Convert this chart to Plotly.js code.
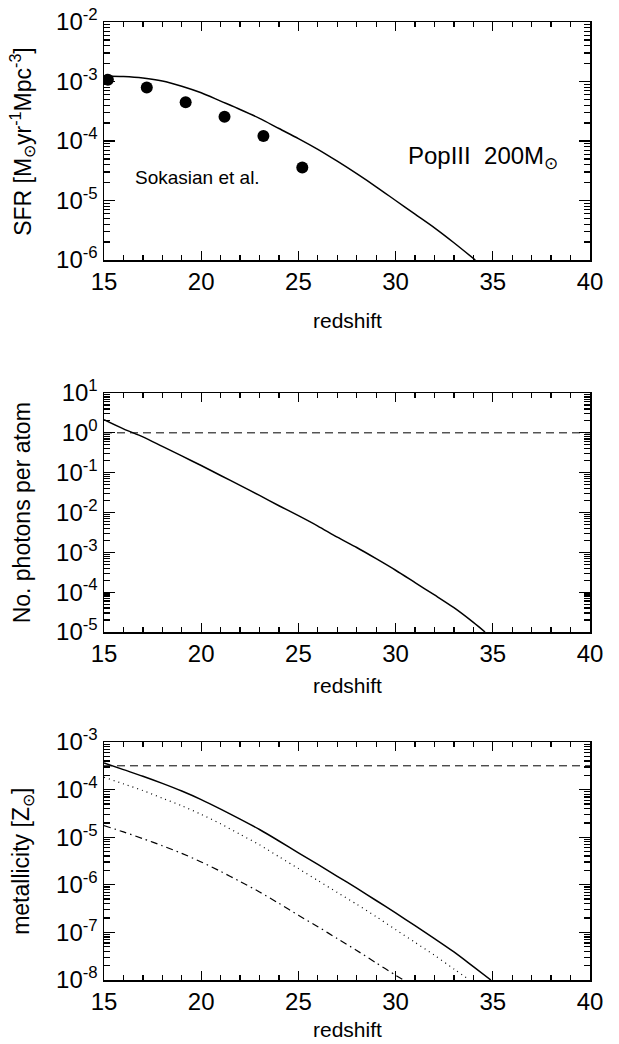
<!DOCTYPE html>
<html>
<head>
<meta charset="utf-8">
<script src="https://cdn.plot.ly/plotly-3.0.1.min.js"></script>
<style>
html,body{margin:0;padding:0;background:#fff;}
#wrap{position:relative;width:619px;height:1044px;}
.panel{position:absolute;left:0;width:619px;height:348px;}
#p1{top:0;} #p2{top:348px;} #p3{top:696px;}
</style>
</head>
<body>
<div id="wrap"><div id="p1" class="panel"></div><div id="p2" class="panel"></div><div id="p3" class="panel"></div></div>
<script>
// ---- Panel 1: star formation rate ----
const sfrZ = [15,16,17,18,19,20,21,22,23,24,25,26,27,28,29,30,31,32,33,34.1];
const sfrModel = [1.242e-3,1.216e-3,1.148e-3,1.023e-3,8.32e-4,6.46e-4,4.68e-4,3.39e-4,2.40e-4,1.62e-4,
                  1.10e-4,7.24e-5,4.57e-5,2.82e-5,1.70e-5,1.00e-5,5.89e-6,3.47e-6,1.95e-6,1.0e-6];
const sokZ = [15.2,17.2,19.2,21.2,23.2,25.2];
const sokSFR = [1.07e-3,7.9e-4,4.47e-4,2.55e-4,1.21e-4,3.6e-5];

// ---- Panel 2: photons per atom ----
const phZ = [15,16,17,18,19,20,21,22,23,24,25,26,27,28,29,30,31,32,33,34,34.6];
const phVal = [2.14,1.259,0.794,0.457,0.263,0.151,0.0851,0.0479,0.0269,0.0148,8.32e-3,4.57e-3,2.40e-3,
               1.32e-3,6.92e-4,3.55e-4,1.74e-4,8.51e-5,4.07e-5,1.74e-5,1.0e-5];
const phRefZ = [15,40];
const phRefVal = [1,1];

// ---- Panel 3: metallicity ----
const metZ = [15,16,17,18,19,20,21,22,23,24,25,26,27,28,29,30,31,32,33,34,34.9];
const metSolid = [3.63e-4,2.63e-4,1.91e-4,1.35e-4,9.33e-5,6.17e-5,3.89e-5,2.40e-5,1.45e-5,8.32e-6,4.68e-6,
                  2.69e-6,1.51e-6,8.51e-7,4.68e-7,2.57e-7,1.38e-7,7.41e-8,3.89e-8,1.91e-8,1.0e-8];
const metDotZ = [15,16,17,18,19,20,21,22,23,24,25,26,27,28,29,30,31,32,33,33.8];
const metDot = [1.82e-4,1.32e-4,9.55e-5,6.61e-5,4.57e-5,3.02e-5,1.91e-5,1.148e-5,6.92e-6,3.89e-6,2.19e-6,
                1.23e-6,6.92e-7,3.89e-7,2.14e-7,1.148e-7,6.17e-8,3.31e-8,1.70e-8,1.0e-8];
const metDDZ = [15,16,17,18,19,20,21,22,23,24,25,26,27,28,29,30,30.4];
const metDD = [1.76e-5,1.29e-5,9.33e-6,6.61e-6,4.57e-6,3.02e-6,1.91e-6,1.175e-6,7.08e-7,4.07e-7,2.29e-7,
               1.32e-7,7.41e-8,4.17e-8,2.29e-8,1.26e-8,1.0e-8];
const zcritZ = [15,40];
const zcritVal = [3.16e-4,3.16e-4];

// ---- Tick labels ----
const xTicks = [15,20,25,30,35,40];
const y1Ticks = [1e-6,1e-5,1e-4,1e-3,1e-2];
const y1Text = ['10<sup>-6</sup>','10<sup>-5</sup>','10<sup>-4</sup>','10<sup>-3</sup>','10<sup>-2</sup>'];
const y2Ticks = [1e-5,1e-4,1e-3,1e-2,1e-1,1,10];
const y2Text = ['10<sup>-5</sup>','10<sup>-4</sup>','10<sup>-3</sup>','10<sup>-2</sup>','10<sup>-1</sup>','10<sup>0</sup>','10<sup>1</sup>'];
const y3Ticks = [1e-8,1e-7,1e-6,1e-5,1e-4,1e-3];
const y3Text = ['10<sup>-8</sup>','10<sup>-7</sup>','10<sup>-6</sup>','10<sup>-5</sup>','10<sup>-4</sup>','10<sup>-3</sup>'];

const FONT = 'Liberation Sans, Arial, Helvetica, sans-serif';
const solid = {color:'#000', width:1.5, shape:'spline', smoothing:0.8};
const dashed = {color:'#000', width:1, dash:'8px,5px'};

function xax(){
  return {
    range:[15,40], tickmode:'array', tickvals:xTicks, ticks:'inside', ticklen:9, tickwidth:1.3, tickcolor:'#000',
    showline:true, linecolor:'#000', linewidth:1.5, mirror:'allticks', showgrid:false, zeroline:false,
    minor:{dtick:1, ticks:'inside', ticklen:5, tickwidth:1.3, tickcolor:'#000', showgrid:false},
    tickfont:{family:FONT, size:24, color:'#000'}
  };
}
function yax(rng, tv, tt){
  return {
    type:'log', range:rng, tickmode:'array', tickvals:tv, ticktext:tt,
    ticks:'inside', ticklen:11, tickwidth:1.3, tickcolor:'#000',
    showline:true, linecolor:'#000', linewidth:1.5, mirror:'allticks', showgrid:false, zeroline:false,
    minor:{dtick:'D1', ticks:'inside', ticklen:6, tickwidth:1.3, tickcolor:'#000', showgrid:false},
    tickfont:{family:FONT, size:24, color:'#000'}
  };
}
function titles(xTitleY, yTitle){
  return [
    {xref:'paper', yref:'paper', x:0.5, y:xTitleY, xanchor:'center', yanchor:'middle', showarrow:false,
     text:'redshift', font:{family:FONT, size:21, color:'#000'}},
    {xref:'paper', yref:'paper', x:-0.169, y:0.5, xanchor:'center', yanchor:'middle', showarrow:false,
     textangle:-90, text:yTitle, font:{family:FONT, size:23, color:'#000'}}
  ];
}
function base(margin, yaxis, annotations){
  return {
    width:619, height:348, showlegend:false, paper_bgcolor:'#fff', plot_bgcolor:'#fff',
    margin:margin, xaxis:xax(), yaxis:yaxis, annotations:annotations
  };
}
const cfg = {staticPlot:true, displayModeBar:false};

Plotly.newPlot('p1', [
  {x:sfrZ, y:sfrModel, mode:'lines', line:solid},
  {x:sokZ, y:sokSFR, mode:'markers', marker:{color:'#000', size:12}}
], base({l:104, r:29, t:22, b:88},
  yax([-6,-2], y1Ticks, y1Text),
  titles(-0.255, 'SFR [M<sub>⊙</sub>yr<sup>-1</sup>Mpc<sup>-3</sup>]').concat([
    {xref:'x', yref:'y', x:19.8, y:-4.62, text:'Sokasian et al.', showarrow:false,
     font:{family:FONT, size:19, color:'#000'}},
    {xref:'x', yref:'y', x:34.5, y:-4.28, text:'PopIII  200M<sub>⊙</sub>', showarrow:false,
     font:{family:FONT, size:24, color:'#000'}}
  ])), cfg);

Plotly.newPlot('p2', [
  {x:phZ, y:phVal, mode:'lines', line:solid},
  {x:phRefZ, y:phRefVal, mode:'lines', line:dashed}
], base({l:104, r:29, t:45, b:64},
  yax([-5,1], y2Ticks, y2Text),
  titles(-0.222, 'No. photons per atom')), cfg);

Plotly.newPlot('p3', [
  {x:metZ, y:metSolid, mode:'lines', line:solid},
  {x:metDotZ, y:metDot, mode:'lines', line:{color:'#000', width:1.2, dash:'1px,4px', shape:'spline', smoothing:0.8}},
  {x:metDDZ, y:metDD, mode:'lines', line:{color:'#000', width:1.2, dash:'7px,4px,1.5px,4px', shape:'spline', smoothing:0.8}},
  {x:zcritZ, y:zcritVal, mode:'lines', line:dashed}
], base({l:104, r:29, t:46, b:64},
  yax([-8,-3], y3Ticks, y3Text),
  titles(-0.21, 'metallicity [Z<sub>⊙</sub>]')), cfg);
</script>
</body>
</html>
